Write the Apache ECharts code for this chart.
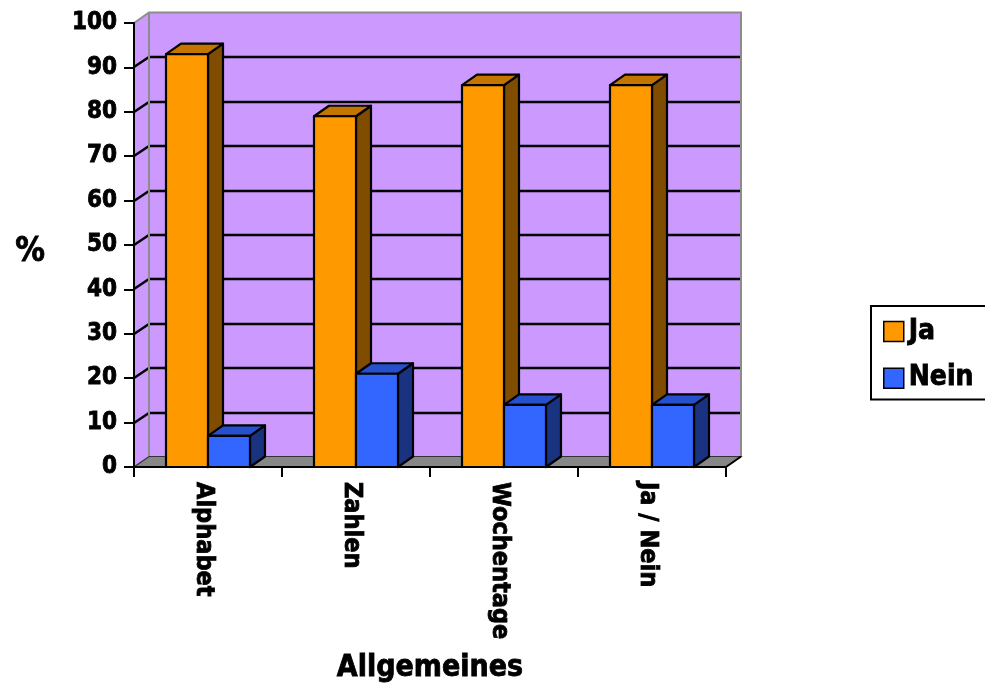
<!DOCTYPE html>
<html>
<head>
<meta charset="utf-8">
<title>Allgemeines</title>
<script src="https://cdn.jsdelivr.net/npm/echarts@6/dist/echarts.min.js"></script>
<style>
  html, body { margin: 0; padding: 0; background: #fff; }
  #chart { width: 985px; height: 691px; }
</style>
</head>
<body>
<div id="chart"></div>
<script>
// Categories and percentages per answer
const categories = ['Alphabet', 'Zahlen', 'Wochentage', 'Ja / Nein'];
const jaValues = [93, 79, 86, 86];
const neinValues = [7, 21, 14, 14];
const yTicks = [0, 10, 20, 30, 40, 50, 60, 70, 80, 90, 100];

// Pseudo-3D depth of bars and walls (screen pixels)
const DEPTH_X = 15;
const DEPTH_Y = -10.5;
const BAR_RATIO = 42 / 148; // bar width relative to one category slot
const FONT = '"DejaVu Sans Condensed", "DejaVu Sans", Verdana, sans-serif';

// Heavy bold text: bold face plus a thin outline in the same colour
const heavy = { fontFamily: FONT, fontWeight: 'bold', color: '#000', textBorderColor: '#000', textBorderWidth: 0.8 };

const palette = {
  Ja:   { front: '#FF9900', top: '#C47500', side: '#7F4C00' },
  Nein: { front: '#3366FF', top: '#2650CC', side: '#1A3380' }
};

const chart = echarts.init(document.getElementById('chart'));

// Back wall, left side wall, floor and gridlines drawn in depth
function renderWalls(params, api) {
  const cs = params.coordSys;
  const x = cs.x, y = cs.y, w = cs.width, h = cs.height;
  const dx = DEPTH_X, dy = DEPTH_Y;
  const children = [];
  children.push({
    type: 'polygon',
    shape: { points: [[x, y + h], [x, y], [x + dx, y + dy], [x + dx, y + h + dy]] },
    style: { fill: '#CC99FF' }
  });
  children.push({
    type: 'rect',
    shape: { x: x + dx, y: y + dy, width: w, height: h },
    style: { fill: '#CC99FF' }
  });
  yTicks.forEach(function (t) {
    if (t === yTicks[0] || t === yTicks[yTicks.length - 1]) return;
    const yy = Math.round(api.coord([0, t])[1]);
    const yb = Math.round(yy + dy);
    children.push({
      type: 'polyline',
      shape: { points: [[x, yy], [x + dx, yb], [x + w + dx, yb]] },
      style: { stroke: '#000', lineWidth: 2.4, fill: null }
    });
  });
  children.push({
    type: 'polyline',
    shape: { points: [[x, y], [x + dx, y + dy], [x + w + dx, y + dy], [x + w + dx, y + h + dy]] },
    style: { stroke: '#8C8C8C', lineWidth: 2, fill: null }
  });
  children.push({
    type: 'line',
    shape: { x1: x + dx, y1: y + dy, x2: x + dx, y2: y + h + dy },
    style: { stroke: '#8C8C8C', lineWidth: 2 }
  });
  children.push({
    type: 'polygon',
    shape: { points: [[x, y + h], [x + w, y + h], [x + w + dx, y + h + dy], [x + dx, y + h + dy]] },
    style: { fill: '#878787', stroke: '#333', lineWidth: 1.2 }
  });
  children.push({
    type: 'line',
    shape: { x1: x + w, y1: y + h, x2: x + w + dx, y2: y + h + dy },
    style: { stroke: '#000', lineWidth: 2 }
  });
  return { type: 'group', children: children };
}

// One bar as a box: front face, top face and right side face
function makeBarRenderer(name, side) {
  const c = palette[name];
  return function (params, api) {
    const cat = api.value(0);
    const val = api.value(1);
    const base = api.coord([cat, 0]);
    const top = api.coord([cat, val]);
    const w = api.size([1, 0])[0] * BAR_RATIO;
    const x0 = side < 0 ? base[0] - w : base[0];
    const ty = top[1], by = base[1];
    const dx = DEPTH_X, dy = DEPTH_Y;
    const edge = { stroke: '#000', lineWidth: 2.2, lineJoin: 'round' };
    return {
      type: 'group',
      children: [
        {
          type: 'polygon',
          shape: { points: [[x0 + w, ty], [x0 + w + dx, ty + dy], [x0 + w + dx, by + dy], [x0 + w, by]] },
          style: Object.assign({ fill: c.side }, edge)
        },
        {
          type: 'polygon',
          shape: { points: [[x0, ty], [x0 + w, ty], [x0 + w + dx, ty + dy], [x0 + dx, ty + dy]] },
          style: Object.assign({ fill: c.top }, edge)
        },
        {
          type: 'rect',
          shape: { x: x0, y: ty, width: w, height: by - ty },
          style: Object.assign({ fill: c.front }, edge)
        }
      ]
    };
  };
}

const option = {
  animation: false,
  textStyle: { fontFamily: FONT },
  grid: { left: 134, right: 259, top: 23, bottom: 224, containLabel: false },
  legend: {
    orient: 'vertical',
    left: 871,
    top: 306,
    data: ['Ja', 'Nein'],
    icon: 'rect',
    itemWidth: 20,
    itemHeight: 20,
    itemGap: 18,
    itemStyle: { borderColor: '#000', borderWidth: 1.5 },
    textStyle: Object.assign({ fontSize: 28, lineHeight: 28 }, heavy),
    borderColor: '#000',
    borderWidth: 2,
    padding: [11, 30, 7, 12],
    selectedMode: false
  },
  xAxis: {
    type: 'category',
    data: categories,
    boundaryGap: true,
    name: 'Allgemeines',
    nameLocation: 'middle',
    nameGap: 186,
    nameTextStyle: Object.assign({ fontSize: 30 }, heavy),
    axisLine: { show: true, lineStyle: { color: '#000', width: 2 } },
    axisTick: { show: true, length: 10, lineStyle: { color: '#000', width: 2 } },
    axisLabel: Object.assign({
      rotate: -90,
      margin: 15,
      fontSize: 25,
      verticalAlign: 'top',
      lineHeight: 9
    }, heavy),
    splitLine: { show: false },
    z: 5
  },
  yAxis: {
    type: 'value',
    min: yTicks[0],
    max: yTicks[yTicks.length - 1],
    interval: yTicks[1] - yTicks[0],
    name: '%',
    nameLocation: 'middle',
    nameRotate: 0,
    nameGap: 89,
    nameTextStyle: Object.assign({ fontSize: 33, verticalAlign: 'top', lineHeight: 14 }, heavy),
    axisLine: { show: true, lineStyle: { color: '#000', width: 2 } },
    axisTick: { show: true, length: 10, lineStyle: { color: '#000', width: 2 } },
    axisLabel: Object.assign({ margin: 17, fontSize: 24 }, heavy),
    splitLine: { show: false },
    z: 5
  },
  series: [
    {
      type: 'custom',
      name: 'walls',
      silent: true,
      z: 1,
      renderItem: renderWalls,
      data: [[0, 0]],
      encode: { x: 0, y: 1 }
    },
    {
      type: 'custom',
      name: 'Ja',
      z: 2,
      itemStyle: { color: palette.Ja.front },
      renderItem: makeBarRenderer('Ja', -1),
      data: jaValues.map(function (v, i) { return [i, v]; }),
      encode: { x: 0, y: 1 }
    },
    {
      type: 'custom',
      name: 'Nein',
      z: 3,
      itemStyle: { color: palette.Nein.front },
      renderItem: makeBarRenderer('Nein', 1),
      data: neinValues.map(function (v, i) { return [i, v]; }),
      encode: { x: 0, y: 1 }
    }
  ]
};

chart.setOption(option);
</script>
</body>
</html>
